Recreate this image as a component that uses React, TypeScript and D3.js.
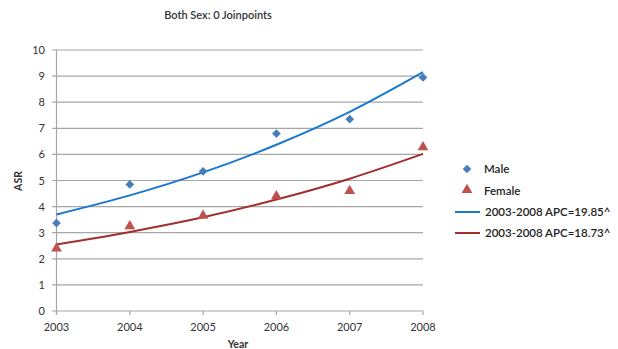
import React from "react";
import * as d3 from "d3";

const years = [2003, 2004, 2005, 2006, 2007, 2008];
const maleObserved = [3.37, 4.85, 5.35, 6.8, 7.35, 8.95];
const femaleObserved = [2.4, 3.25, 3.65, 4.4, 4.6, 6.28];
const maleFit = [3.7, 4.43, 5.31, 6.37, 7.63, 9.15];
const femaleFit = [2.55, 3.03, 3.59, 4.27, 5.07, 6.02];
const yTicks = [0, 1, 2, 3, 4, 5, 6, 7, 8, 9, 10];
const legendLabels = ["Male", "Female", "2003-2008 APC=19.85^", "2003-2008 APC=18.73^"];

const W = 618, H = 349;
const font = "Lato, 'Open Sans', sans-serif";

export default function App() {
  const x = d3.scaleLinear().domain([2003, 2008]).range([56.5, 423]);
  const y = d3.scaleLinear().domain([0, 10]).range([311, 50]);
  const line = d3.line<number>().x((_, i) => x(years[i])).y((d) => y(d)).curve(d3.curveMonotoneX);
  const diamond = d3.symbol().type(d3.symbolSquare).size(38)()!;
  const tri = d3.symbol().type(d3.symbolTriangle).size(50)()!;
  const blueM = "#4A7EBB", blueL = "#1A78CF", redM = "#C0504D", redL = "#A0302E";
  return (
    <svg width={W} height={H} style={{ position: "absolute", left: 0, top: 0, background: "#fff" }}>
      <text x={218} y={19} textAnchor="middle" fontFamily={font} fontWeight={600} fontSize={11} fill="#333">Both Sex: 0 Joinpoints</text>
      {yTicks.map((t) => (
        <g key={t}>
          <line x1={52} x2={423} y1={y(t)} y2={y(t)} stroke="#A6A6A6" strokeWidth={1.2} />
          <text x={45} y={y(t) + 4} textAnchor="end" fontFamily={font} fontSize={11} fill="#333">{t}</text>
        </g>
      ))}
      <line x1={x(2003)} x2={x(2003)} y1={y(10)} y2={y(0) + 4} stroke="#A6A6A6" strokeWidth={1.2} />
      {years.map((yr) => (
        <g key={yr}>
          <line x1={x(yr)} x2={x(yr)} y1={y(0)} y2={y(0) + 4} stroke="#A6A6A6" strokeWidth={1.2} />
          <text x={x(yr)} y={y(0) + 20} textAnchor="middle" fontFamily={font} fontSize={11} fill="#333">{yr}</text>
        </g>
      ))}
      <text x={238} y={348} textAnchor="middle" fontFamily={font} fontWeight="bold" fontSize={10.5} fill="#333">Year</text>
      <text transform="translate(22,181) rotate(-90)" textAnchor="middle" fontFamily={font} fontWeight="bold" fontSize={10.5} fill="#333">ASR</text>
      <path d={line(maleFit)!} fill="none" stroke={blueL} strokeWidth={2} />
      <path d={line(femaleFit)!} fill="none" stroke={redL} strokeWidth={2} />
      {maleObserved.map((v, i) => (
        <path key={"m" + i} d={diamond} transform={`translate(${x(years[i])},${y(v)}) rotate(45)`} fill={blueM} />
      ))}
      {femaleObserved.map((v, i) => (
        <path key={"f" + i} d={tri} transform={`translate(${x(years[i])},${y(v)})`} fill={redM} />
      ))}
      <path d={diamond} transform="translate(467,169) rotate(45)" fill={blueM} />
      <text x={484} y={173} fontFamily={font} fontWeight={600} fontSize={11.5} fill="#222">{legendLabels[0]}</text>
      <path d={tri} transform="translate(467,190)" fill={redM} />
      <text x={484} y={195} fontFamily={font} fontWeight={600} fontSize={11.5} fill="#222">{legendLabels[1]}</text>
      <line x1={455} x2={480} y1={212} y2={212} stroke={blueL} strokeWidth={2} />
      <text x={485} y={216} fontFamily={font} fontWeight={600} fontSize={11.5} fill="#222">{legendLabels[2]}</text>
      <line x1={455} x2={480} y1={233} y2={233} stroke={redL} strokeWidth={2} />
      <text x={485} y={237} fontFamily={font} fontWeight={600} fontSize={11.5} fill="#222">{legendLabels[3]}</text>
    </svg>
  );
}
